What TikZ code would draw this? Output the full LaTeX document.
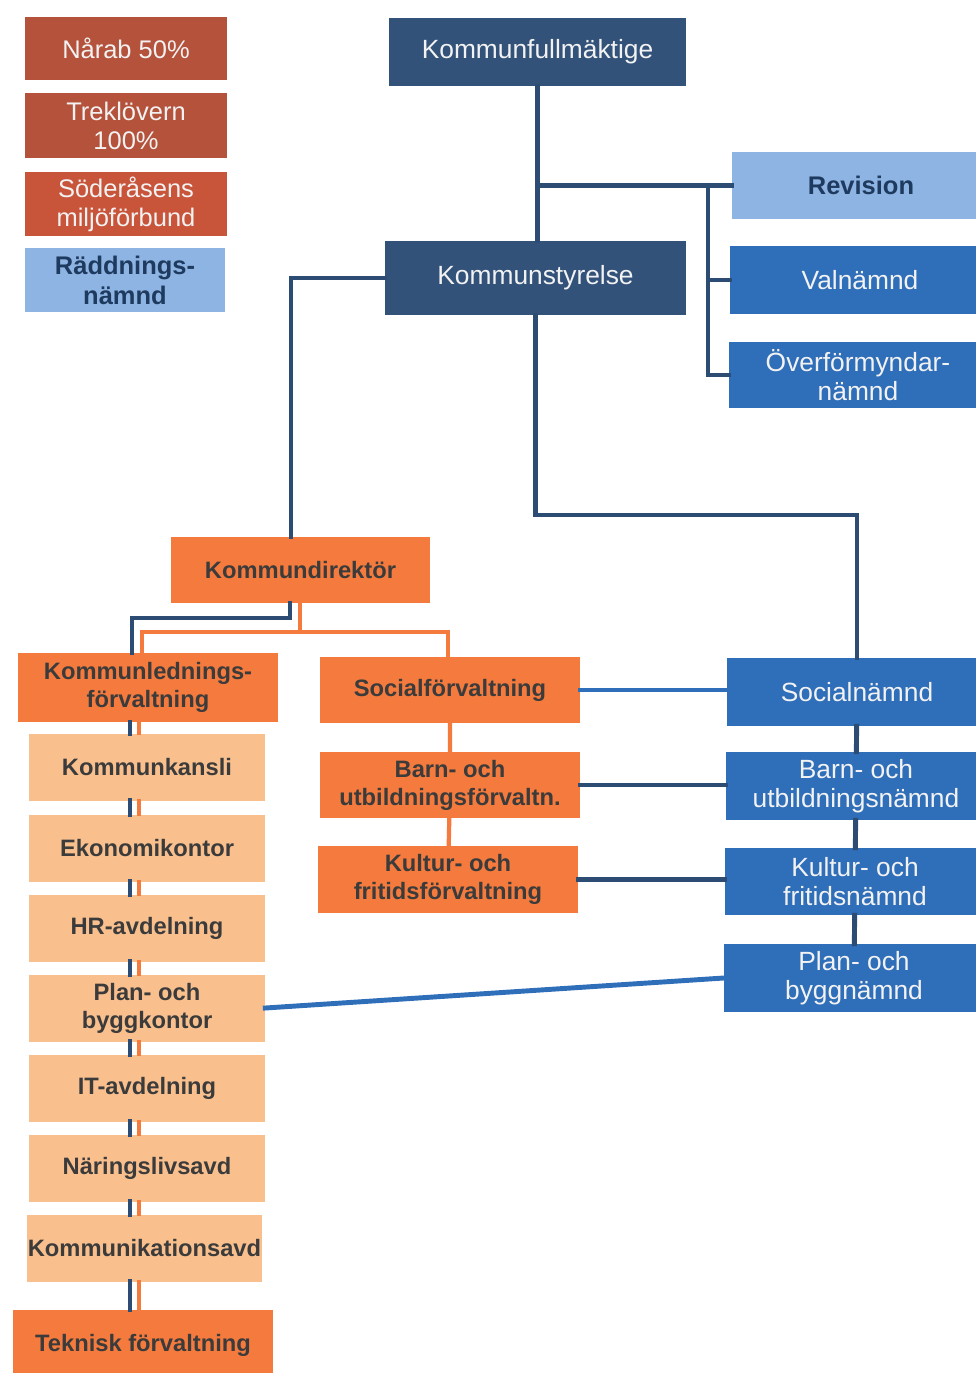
\documentclass[tikz,border=0pt]{standalone}
\usepackage{fontspec}
\setmainfont{Liberation Sans}
\usepackage{xcolor}

\definecolor{kfnavy}{RGB}{50,82,122}
\definecolor{linenavy}{RGB}{44,76,116}
\definecolor{nbblue}{RGB}{47,110,184}
\definecolor{lightblue}{RGB}{141,180,226}
\definecolor{revtext}{RGB}{31,58,95}
\definecolor{brownred}{RGB}{180,82,60}
\definecolor{soderred}{RGB}{200,84,58}
\definecolor{forange}{RGB}{244,123,61}
\definecolor{paleorange}{RGB}{249,192,142}
\definecolor{boxtext}{RGB}{242,242,242}
\definecolor{darktext}{RGB}{59,59,59}

\begin{document}
\begin{tikzpicture}[x=0.02cm,y=-0.02cm,line cap=rect,
  box/.style={rectangle,inner sep=0pt,align=center,minimum width=5.2cm,minimum height=1.34cm},
  navybox/.style={box,fill=kfnavy,text=boxtext,font=\fontsize{15}{17}\selectfont},
  bluebox/.style={box,fill=nbblue,text=boxtext,font=\fontsize{15}{16.5}\selectfont},
  lightbox/.style={box,fill=lightblue,text=revtext,font=\bfseries\fontsize{14.5}{17}\selectfont},
  brownbox/.style={box,fill=brownred,text=boxtext,font=\fontsize{14.5}{16.5}\selectfont,minimum width=4.04cm,minimum height=1.28cm},
  orangebox/.style={box,fill=forange,text=darktext,font=\bfseries\fontsize{13.5}{16}\selectfont},
  palebox/.style={box,fill=paleorange,text=darktext,font=\bfseries\fontsize{13.5}{16}\selectfont,minimum width=4.72cm},
  navyline/.style={draw=linenavy,line width=2.8pt},
  orangeline/.style={draw=forange,line width=2.4pt},
  blueline/.style={draw=nbblue,line width=2.8pt}]
\useasboundingbox (0,0) rectangle (976,1373);

% bolag och förbund
\node[brownbox] (narab) at (126,48.5) {Nårab 50\%};
\node[brownbox,minimum height=1.3cm] (treklovern) at (126,125.5) {Treklövern\\100\%};
\node[brownbox,fill=soderred] (soderasen) at (126,204) {Söderåsens\\miljöförbund};
\node[lightbox,minimum width=4cm,minimum height=1.28cm] (raddning) at (125,280) {Räddnings-\\nämnd};

% politisk ledning
\node[navybox,minimum width=5.94cm,minimum height=1.36cm] (kf) at (537.5,52) {Kommunfullmäktige};
\node[navybox,minimum width=6.02cm,minimum height=1.48cm] (ks) at (535.5,278) {Kommunstyrelse};
\node[lightbox,minimum width=5.16cm] (revision) at (861,185.5) {Revision};
\node[bluebox,minimum height=1.36cm] (valnamnd) at (860,280) {Valnämnd};
\node[bluebox,minimum width=5.16cm,minimum height=1.32cm] (overformyndar) at (858,375) {Överförmyndar-\\nämnd};

% nämnder
\node[bluebox,minimum height=1.36cm] (socn) at (857,692) {Socialnämnd};
\node[bluebox,minimum height=1.36cm] (bun) at (856,786) {Barn- och\\utbildningsnämnd};
\node[bluebox] (kfn) at (855,881.5) {Kultur- och\\fritidsnämnd};
\node[bluebox,minimum height=1.36cm] (pbn) at (854,978) {Plan- och\\byggnämnd};

% förvaltningar
\node[orangebox,minimum width=5.18cm,minimum height=1.32cm] (kd) at (300.5,570) {Kommundirektör};
\node[orangebox,minimum height=1.38cm] (klf) at (148,687.5) {Kommunlednings-\\förvaltning};
\node[orangebox,minimum height=1.32cm] (socf) at (450,690) {Socialförvaltning};
\node[orangebox,minimum height=1.32cm] (buf) at (450,785) {Barn- och\\utbildningsförvaltn.};
\node[orangebox] (kff) at (448,879.5) {Kultur- och\\fritidsförvaltning};

% avdelningar
\node[palebox] (kansli) at (147,767) {Kommunkansli};
\node[palebox] (ekonomi) at (147,848) {Ekonomikontor};
\node[palebox] (hr) at (147,928) {HR-avdelning};
\node[palebox] (pbk) at (147,1008) {Plan- och\\byggkontor};
\node[palebox] (it) at (147,1088) {IT-avdelning};
\node[palebox] (naring) at (147,1168) {Näringslivsavd};
\node[palebox,minimum width=4.7cm] (kommunikation) at (144.5,1248) {Kommunikationsavd};
\node[orangebox,minimum height=1.4cm] (teknisk) at (143,1345) {Teknisk förvaltning};

\coordinate (bus) at (708,0);
\coordinate (kdin) at (291,0);
\coordinate (sbend) at (0,515);
\coordinate (kdb) at (290,618);
\coordinate (kdl) at (132,618);
\coordinate (ordn) at (300,632);
\coordinate (orl) at (142,632);
\coordinate (orr) at (448,632);
\coordinate (blx) at (130,0);
\coordinate (orx) at (139,0);

% linjer
\draw[navyline] (kf.south) -- (kf.south |- ks.north);
\draw[navyline] (kf.south |- revision.west) -- (revision.west);
\draw[navyline] (revision.west -| bus) -- (overformyndar.west -| bus) -- (overformyndar.west);
\draw[navyline] (valnamnd.west -| bus) -- (valnamnd.west);
\draw[navyline] (ks.west) -| (kdin |- kd.north);
\draw[navyline] (ks.south) |- (sbend -| socn.north) -- (socn.north);
\draw[navyline] (kd.south -| kdb) -- (kdb) -- (kdl) -- (kdl |- klf.north);
\draw[orangeline] (kd.south -| ordn) -- (ordn);
\draw[orangeline] (orl |- klf.north) -- (orl) -- (orr) -- (orr |- socf.north);
\draw[orangeline] (socf) -- (buf) -- (kff);
\draw[navyline] (socn) -- (bun) -- (kfn) -- (pbn);
\draw[blueline] (socf.east) -- (socn.west |- socf.east);
\draw[navyline] (buf.east) -- (bun.west |- buf.east);
\draw[navyline] (kff.east) -- (kfn.west |- kff.east);
\draw[blueline] (pbk.east) -- (pbn.west);
\foreach \a/\b in {klf/kansli,kansli/ekonomi,ekonomi/hr,hr/pbk,pbk/it,it/naring,naring/kommunikation,kommunikation/teknisk}{
  \draw[navyline] (\a.south -| blx) -- (\b.north -| blx);
  \draw[orangeline] (\a.south -| orx) -- (\b.north -| orx);
}
\end{tikzpicture}
\end{document}
